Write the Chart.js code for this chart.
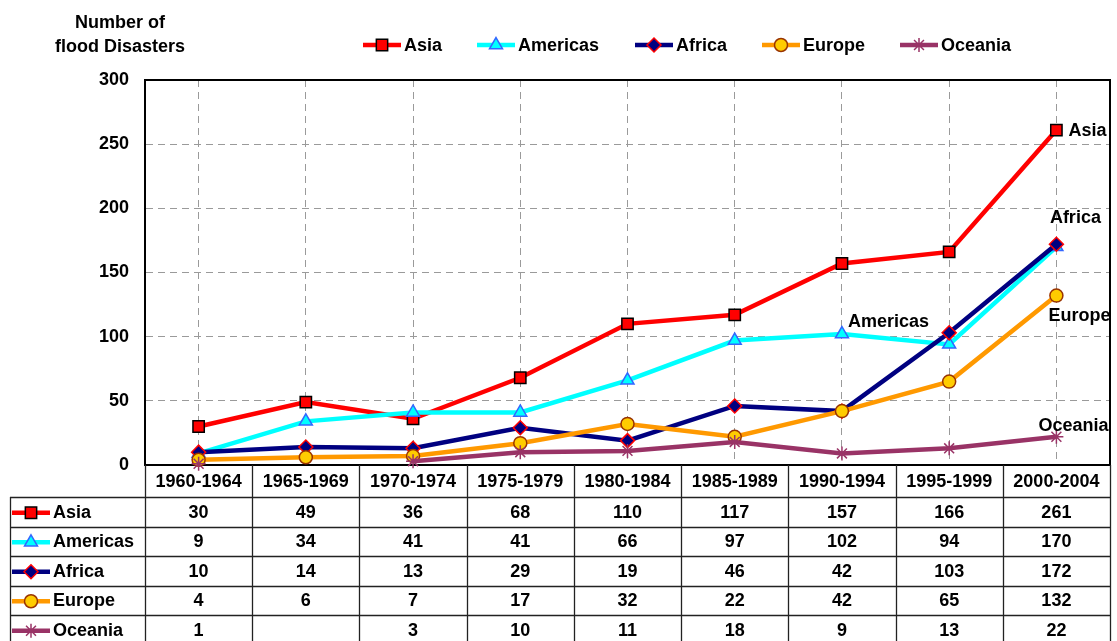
<!DOCTYPE html>
<html>
<head>
<meta charset="utf-8">
<script src="https://cdn.jsdelivr.net/npm/chart.js@4.4.0/dist/chart.umd.min.js"></script>
<style>
html, body { margin: 0; padding: 0; background: #fff; }
#wrap { width: 1117px; height: 641px; }
</style>
</head>
<body>
<div id="wrap"><canvas id="floods" width="1117" height="641"></canvas></div>
<script>
// Data
var periods = ['1960-1964', '1965-1969', '1970-1974', '1975-1979', '1980-1984', '1985-1989', '1990-1994', '1995-1999', '2000-2004'];
var asia     = [30, 49, 36, 68, 110, 117, 157, 166, 261];
var americas = [9, 34, 41, 41, 66, 97, 102, 94, 170];
var africa   = [10, 14, 13, 29, 19, 46, 42, 103, 172];
var europe   = [4, 6, 7, 17, 32, 22, 42, 65, 132];
var oceania  = [1, null, 3, 10, 11, 18, 9, 13, 22];   // 1965-1969 is blank in the table
var seriesNames = ['Asia', 'Americas', 'Africa', 'Europe', 'Oceania'];
var yMin = 0, yMax = 300, yStep = 50;
var titleLines = ['Number of', 'flood Disasters'];

var FONT = '"Liberation Sans", Arial, sans-serif';
var BOLD = 'bold 18px ' + FONT;

// look of each series (excel-ish)
var looks = {
    'Asia':     { line: '#ff0000', fill: '#ff0000', edge: '#000000', style: 'rect',    r: 8 },
    'Americas': { line: '#00ffff', fill: '#00ffff', edge: '#3366ff', style: 'triangle', r: 7.5 },
    'Africa':   { line: '#000080', fill: '#000080', edge: '#ff0000', style: 'rectRot', r: 7 },
    'Europe':   { line: '#ff9900', fill: '#ffcc00', edge: '#993300', style: 'circle',  r: 6.5 },
    'Oceania':  { line: '#993366', fill: '#993366', edge: '#993366', style: 'star',    r: 7 }
};
var values = [asia, americas, africa, europe, oceania];

function mkDataset(name, i) {
    var lk = looks[name];
    return {
        label: name,
        data: values[i],
        borderColor: lk.line,
        borderWidth: 4.5,
        backgroundColor: lk.fill,
        pointStyle: lk.style,
        pointRadius: lk.r,
        pointBackgroundColor: lk.fill,
        pointBorderColor: lk.edge,
        pointBorderWidth: 1.5,
        spanGaps: false,
        tension: 0,
        clip: false,
        order: seriesNames.length - i   // later series on top, like excel
    };
}

// small line+marker sample, used by legend and table
function drawSample(ctx, name, x1, x2, y) {
    var lk = looks[name];
    ctx.save();
    ctx.strokeStyle = lk.line;
    ctx.lineWidth = 4.5;
    ctx.beginPath();
    ctx.moveTo(x1, y);
    ctx.lineTo(x2, y);
    ctx.stroke();
    ctx.fillStyle = lk.fill;
    ctx.strokeStyle = lk.edge;
    ctx.lineWidth = 1.5;
    Chart.helpers.drawPoint(ctx, { pointStyle: lk.style, radius: lk.r, rotation: 0, borderWidth: 1.5 }, (x1 + x2) / 2, y);
    ctx.restore();
}

var extrasPlugin = {
    id: 'extras',
    afterDraw: function (chart) {
        var ctx = chart.ctx;
        var area = chart.chartArea;
        var xs = chart.scales.x;
        var ys = chart.scales.y;
        var colW = (area.right - area.left) / periods.length;

        ctx.save();
        ctx.fillStyle = '#000';
        ctx.font = BOLD;

        // y axis title, top left
        ctx.textAlign = 'center';
        ctx.textBaseline = 'middle';
        ctx.fillText(titleLines[0], 120, 23);
        ctx.fillText(titleLines[1], 120, 47);

        // legend at the top
        var legX = [363, 477, 635, 762, 900];
        seriesNames.forEach(function (n, i) {
            drawSample(ctx, n, legX[i], legX[i] + 38, 45);
            ctx.fillStyle = '#000';
            ctx.textAlign = 'left';
            ctx.fillText(n, legX[i] + 41, 46);
        });

        // frame: top and right
        ctx.strokeStyle = '#000';
        ctx.lineWidth = 2;
        ctx.beginPath();
        ctx.moveTo(area.left, area.top);
        ctx.lineTo(area.right, area.top);
        ctx.lineTo(area.right, area.bottom);
        ctx.stroke();

        // series labels inside the plot
        function pt(series, idx) {
            return { x: xs.getPixelForValue(idx), y: ys.getPixelForValue(values[series][idx]) };
        }
        var last = periods.length - 1;
        var p;
        ctx.textBaseline = 'middle';
        p = pt(0, last); ctx.textAlign = 'left';   ctx.fillText('Asia', p.x + 12, p.y + 1);
        p = pt(2, last); ctx.textAlign = 'center'; ctx.fillText('Africa', p.x + 19, p.y - 26);
        p = pt(1, 6);    ctx.textAlign = 'left';   ctx.fillText('Americas', p.x + 6, p.y - 12);
        p = pt(3, last); ctx.textAlign = 'left';   ctx.fillText('Europe', p.x - 8, p.y + 20);
        p = pt(4, last); ctx.textAlign = 'left';   ctx.fillText('Oceania', p.x - 18, p.y - 11);

        // data table under the plot
        var headTop = area.bottom;
        var headBottom = 497;
        var rowH = 29.5;
        var tabLeft = 10;
        var bottom = chart.height;
        ctx.strokeStyle = '#222';
        ctx.lineWidth = 1.3;
        ctx.beginPath();
        for (var c = 0; c <= periods.length; c++) {
            var vx = Math.round(area.left + c * colW) + 0.5;
            ctx.moveTo(vx, headTop);
            ctx.lineTo(vx, bottom);
        }
        ctx.moveTo(tabLeft + 0.5, headBottom);
        ctx.lineTo(tabLeft + 0.5, bottom);
        for (var r = 0; r < seriesNames.length; r++) {
            var hy = Math.round(headBottom + r * rowH) + 0.5;
            ctx.moveTo(tabLeft, hy);
            ctx.lineTo(area.right, hy);
        }
        ctx.stroke();

        ctx.fillStyle = '#000';
        ctx.textAlign = 'center';
        periods.forEach(function (lab, i) {
            ctx.fillText(lab, xs.getPixelForValue(i), (headTop + headBottom) / 2 + 1);
        });
        seriesNames.forEach(function (n, r) {
            var cy = headBottom + r * rowH + rowH / 2 + 1;
            drawSample(ctx, n, 12, 50, cy);
            ctx.fillStyle = '#000';
            ctx.textAlign = 'left';
            ctx.fillText(n, 53, cy);
            ctx.textAlign = 'center';
            values[r].forEach(function (v, i) {
                ctx.fillText(v === null ? '' : String(v), xs.getPixelForValue(i), cy);
            });
        });
        ctx.restore();
    }
};

var ctx = document.getElementById('floods').getContext('2d');
var chart = new Chart(ctx, {
    type: 'line',
    data: {
        labels: periods,
        datasets: seriesNames.map(mkDataset)
    },
    options: {
        responsive: false,
        animation: false,
        devicePixelRatio: 1,
        layout: { autoPadding: false, padding: { top: 80, right: 7, left: 0, bottom: 0 } },
        plugins: {
            legend: { display: false },
            tooltip: { enabled: false },
            title: { display: false }
        },
        scales: {
            x: {
                type: 'category',
                offset: true,
                grid: { display: true, offset: false, color: '#9a9a9a', lineWidth: 1, drawTicks: false },
                border: { display: true, color: '#000', width: 2, dash: [7, 5] },
                ticks: { display: false },
                afterFit: function (s) { s.height = 176; }
            },
            y: {
                min: yMin,
                max: yMax,
                ticks: { stepSize: yStep, color: '#000', font: { family: FONT, size: 18, weight: 'bold' }, padding: 16 },
                grid: { color: '#9a9a9a', lineWidth: 1, drawTicks: false },
                border: { display: true, color: '#000', width: 2, dash: [7, 5] },
                afterFit: function (s) { s.width = 145; }
            }
        }
    },
    plugins: [extrasPlugin]
});
</script>
</body>
</html>
